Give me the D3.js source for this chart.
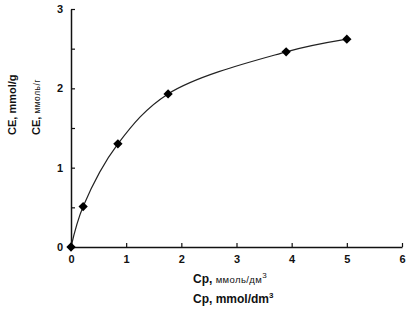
<!DOCTYPE html>
<html lang="en">
<head>
  <meta charset="UTF-8">
  <script src="https://cdn.jsdelivr.net/npm/d3@7"></script>
  <title>CE vs Cp</title>
  <style>
    body { margin: 0; background: #fff; }
    text { font-family: "Liberation Sans", Arial, sans-serif; fill: #111; }
    .tick text { font-size: 11px; font-weight: bold; }
  </style>
</head>
<body>
  <script>
    // data
    const cp = [0, 0.22, 0.85, 1.76, 3.9, 5.0];
    const ce = [0, 0.51, 1.30, 1.93, 2.46, 2.62];
    const xTicks = [0, 1, 2, 3, 4, 5, 6];
    const yTicks = [0, 0.5, 1, 1.5, 2, 2.5, 3];

    const width = 418, height = 311;
    const x = d3.scaleLinear().domain([0, 6]).range([71, 402]);
    const y = d3.scaleLinear().domain([0, 3]).range([247, 9]);

    const svg = d3.select("body").append("svg")
      .attr("width", width).attr("height", height);

    // x axis, inward ticks
    const gx = svg.append("g").attr("transform", `translate(0,${y(0)})`)
      .call(d3.axisBottom(x).tickValues(xTicks).tickSize(-4).tickPadding(8).tickSizeOuter(0)
        .tickFormat(d3.format("d")));
    gx.select(".domain").attr("stroke", "#111").attr("stroke-width", 1.5);
    gx.selectAll(".tick line").attr("stroke", "#111").attr("stroke-width", 1.2);

    // y axis
    const gy = svg.append("g").attr("transform", `translate(${x(0)},0)`)
      .call(d3.axisLeft(y).tickValues(yTicks).tickSize(-4).tickPadding(8).tickSizeOuter(0)
        .tickFormat(d => Number.isInteger(d) ? d : ""));
    gy.select(".domain").attr("stroke", "#111").attr("stroke-width", 1.5);
    gy.selectAll(".tick line").attr("stroke", "#111").attr("stroke-width", 1.2);

    const pts = cp.map((v, i) => [v, ce[i]]);

    const line = d3.line()
      .x(d => x(d[0])).y(d => y(d[1]))
      .curve(d3.curveCatmullRom.alpha(0.5));

    svg.append("path").datum(pts)
      .attr("d", line)
      .attr("fill", "none").attr("stroke", "#222").attr("stroke-width", 1.2);

    const diamond = d3.symbol().type(d3.symbolDiamond2).size(55);
    svg.selectAll("path.pt").data(pts).join("path")
      .attr("class", "pt")
      .attr("d", diamond)
      .attr("fill", "#000")
      .attr("transform", d => `translate(${x(d[0])},${y(d[1])})`);

    // axis titles
    const xt1 = svg.append("text").attr("x", 193).attr("y", 283);
    xt1.append("tspan").attr("font-size", 12).attr("font-weight", "bold").text("Cp, ");
    xt1.append("tspan").attr("font-size", 9.5).attr("letter-spacing", 0.4).text("ммоль/дм");
    xt1.append("tspan").attr("font-size", 8).attr("dy", -5).text("3");

    const xt2 = svg.append("text").attr("x", 193).attr("y", 303)
      .attr("font-weight", "bold").attr("font-size", 12);
    xt2.append("tspan").text("Cp, mmol/dm");
    xt2.append("tspan").attr("font-size", 8).attr("dy", -5).text("3");

    svg.append("text")
      .attr("transform", "translate(16,135) rotate(-90)")
      .attr("font-weight", "bold").attr("font-size", 11)
      .text("CE, mmol/g");

    const yt2 = svg.append("text")
      .attr("transform", "translate(40,135) rotate(-90)");
    yt2.append("tspan").attr("font-size", 11).attr("font-weight", "bold").text("CE, ");
    yt2.append("tspan").attr("font-size", 8.5).attr("letter-spacing", 0.5).text("ммоль/г");
  </script>
</body>
</html>
